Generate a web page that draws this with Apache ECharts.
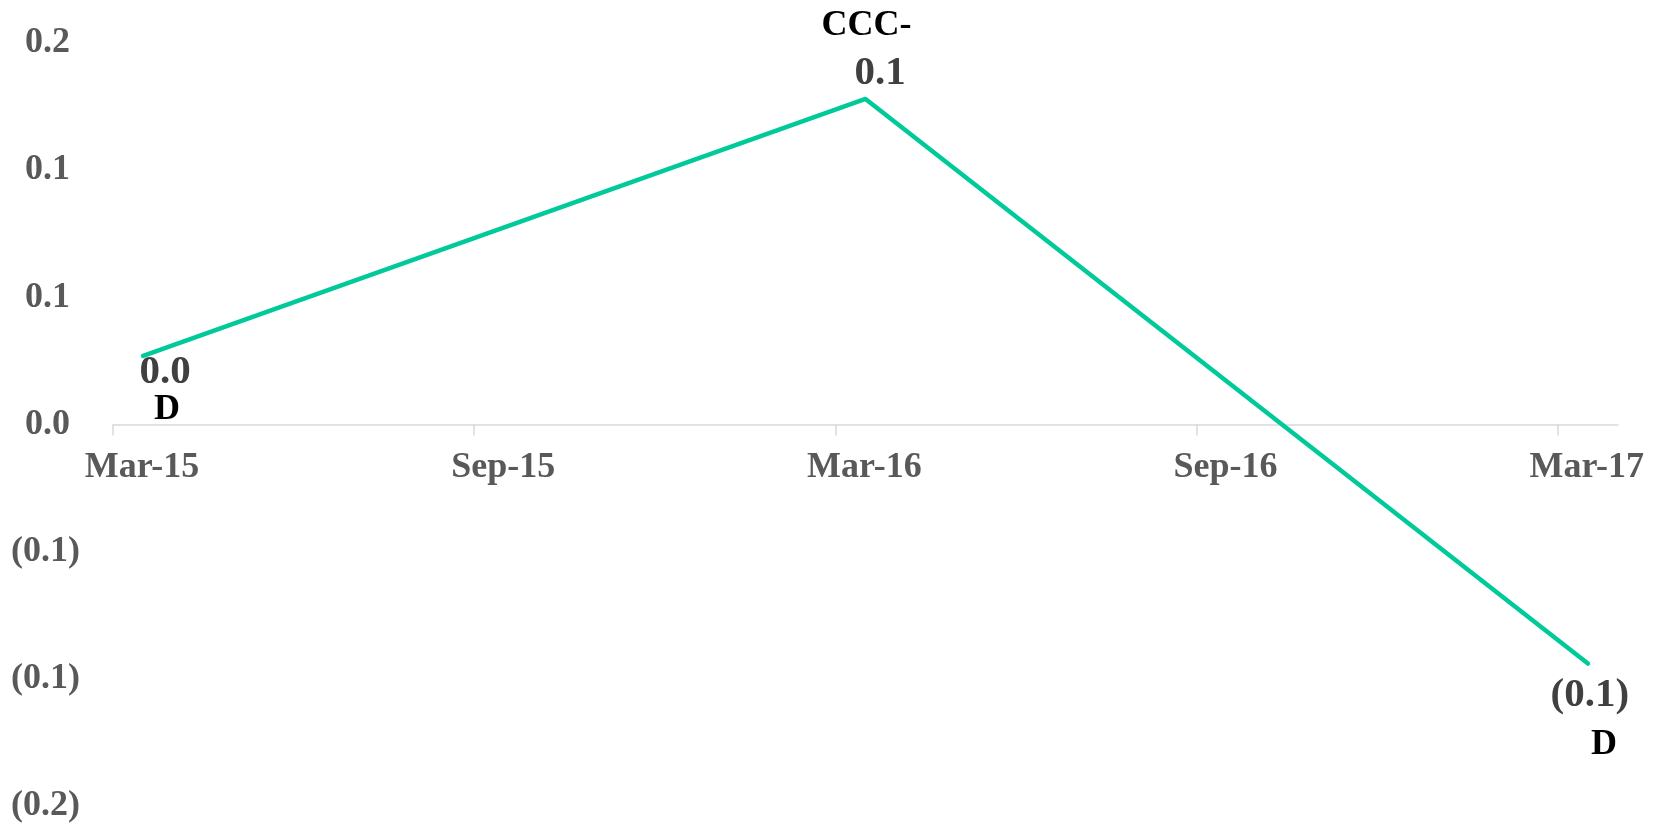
<!DOCTYPE html>
<html>
<head>
<meta charset="utf-8">
<script src="https://cdn.jsdelivr.net/npm/echarts@6/dist/echarts.min.js"></script>
<style>
    html, body { margin: 0; padding: 0; background: #fff; }
    #chart { width: 1667px; height: 827px; }
</style>
</head>
<body>
<div id="chart"></div>
<script>
// data
var tickLabels = ['Mar-15', 'Sep-15', 'Mar-16', 'Sep-16', 'Mar-17'];
var pointDates = ['Mar-15', 'Mar-16', 'Mar-17'];
var pointValues = [0.027, 0.128, -0.094];
var pointRatings = ['D', 'CCC-', 'D'];

var serif = "'Liberation Serif', 'Times New Roman', serif";
var months = ['Jan', 'Feb', 'Mar', 'Apr', 'May', 'Jun', 'Jul', 'Aug', 'Sep', 'Oct', 'Nov', 'Dec'];

// months counted from Mar-15
function monthIndex(s) {
    var p = s.split('-');
    return (2000 + Number(p[1]) - 2015) * 12 + months.indexOf(p[0]) - 2;
}

function fmt(v) {
    var s = (Math.round(Math.abs(v) * 10 + 1e-9) / 10).toFixed(1);
    return v < -1e-9 ? '(' + s + ')' : s;
}

// label placement for each point (rating below or above the value)
var labelSetup = [
    {offset: [22, 34], ratingFirst: false, vLH: 40, gLH: 34, vPad: 0, gPad: 4},
    {offset: [1, -49], ratingFirst: true, vLH: 48, gLH: 46, vPad: 27, gPad: 0},
    {offset: [2, 56], ratingFirst: false, vLH: 50, gLH: 49, vPad: 0, gPad: 28}
];

var seriesData = pointDates.map(function (d, i) {
    var st = labelSetup[i];
    var v = '{v|' + fmt(pointValues[i]) + '}';
    var g = '{g|' + pointRatings[i] + '}';
    return {
        value: [monthIndex(d) + 0.5, pointValues[i]],
        label: {
            show: true,
            position: 'inside',
            offset: st.offset,
            formatter: st.ratingFirst ? g + '\n' + v : v + '\n' + g,
            rich: {
                v: {fontSize: 41, fontWeight: 'bold', fontFamily: serif, color: '#404040',
                    lineHeight: st.vLH, padding: [0, 0, 0, st.vPad]},
                g: {fontSize: 36, fontWeight: 'bold', fontFamily: serif, color: '#000',
                    lineHeight: st.gLH, padding: [0, 0, 0, st.gPad]}
            }
        }
    };
});

var tickPos = tickLabels.map(monthIndex);

var gridTop = 43, gridBottom = 21;
// lift the x axis (line, ticks, labels) from the grid bottom up to y = 0
var zeroLift = -(827 - gridTop - gridBottom) / 2;

var chart = echarts.init(document.getElementById('chart'));
var option = {
    animation: false,
    grid: {left: 113, right: 49, top: gridTop, bottom: gridBottom, outerBoundsMode: 'none'},
    xAxis: {
        type: 'value',
        min: 0,
        max: 25,
        interval: 6,
        offset: zeroLift,
        splitLine: {show: false},
        axisLine: {show: true, onZero: false, lineStyle: {color: '#d9d9d9', width: 1.5}},
        axisTick: {show: true, length: 11, customValues: tickPos, lineStyle: {color: '#d9d9d9', width: 1.5}},
        axisLabel: {
            show: true,
            showMaxLabel: false,
            margin: 25,
            formatter: function (v) {
                var i = tickPos.indexOf(Math.round(Number(v)));
                return i < 0 ? '' : '{t|' + tickLabels[i] + '}';
            },
            rich: {
                // label sits in the middle of its month, half a month right of the tick
                t: {fontSize: 36, fontWeight: 'bold', fontFamily: serif, color: '#595959', padding: [0, 0, 0, 58]}
            }
        }
    },
    yAxis: {
        type: 'value',
        min: -0.15,
        max: 0.15,
        interval: 0.05,
        splitLine: {show: false},
        axisLine: {show: false},
        axisTick: {show: false},
        axisLabel: {
            margin: 33,
            formatter: function (v) {
                return v < -1e-9 ? '{n|' + fmt(v) + '}' : '{p|' + fmt(v) + '}';
            },
            rich: {
                p: {fontSize: 36, fontWeight: 'bold', fontFamily: serif, color: '#595959', padding: [0, 10, 0, 0]},
                n: {fontSize: 36, fontWeight: 'bold', fontFamily: serif, color: '#595959'}
            }
        }
    },
    series: [
        {
            type: 'line',
            data: seriesData,
            symbol: 'circle',
            symbolSize: 0.1,
            itemStyle: {color: '#00c99a'},
            lineStyle: {color: '#00c99a', width: 4.5, cap: 'round', join: 'round'}
        }
    ]
};
chart.setOption(option);
</script>
</body>
</html>
